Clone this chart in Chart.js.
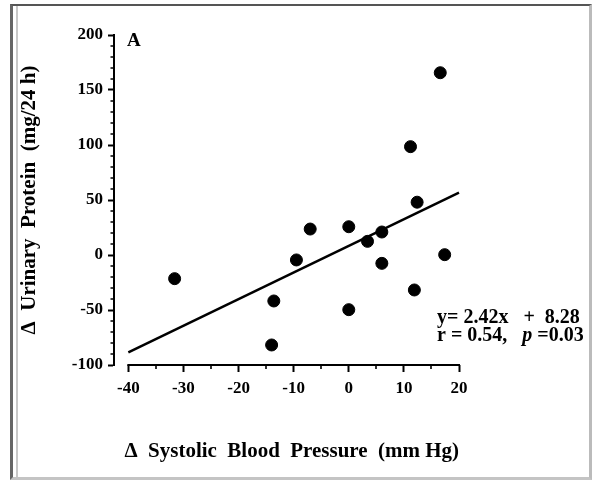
<!DOCTYPE html>
<html>
<head>
<meta charset="utf-8">
<script src="https://cdn.jsdelivr.net/npm/chart.js@4/dist/chart.umd.min.js"></script>
<style>
  html, body { margin: 0; padding: 0; background: #fff; }
  #wrap { position: relative; width: 592px; height: 481px; }
  #frame { position: absolute; left: 10px; top: 4px; width: 576px; height: 471px;
    border-top: 2px solid #555; border-left: 3px solid #666; border-right: 3px solid #bbb; border-bottom: 3px solid #c4c4c4;
    box-shadow: inset 3px 0 0 #fff, inset 5px 0 0 #c8c8c8; pointer-events: none; }
  canvas { position: absolute; left: 0; top: 0; }
</style>
</head>
<body>
<div id="wrap">
  <canvas id="c" width="592" height="481"></canvas>
  <div id="frame"></div>
</div>
<script>
// ---- data ----
const bpChange = [-31.6, -14.0, -13.6, -9.5, -7.0, 0.0, 0.0, 3.4, 6.0, 6.0, 11.2, 12.4, 11.9, 16.6, 17.4];
const proteinChange = [-21.5, -81.8, -41.8, -4.5, 23.6, 25.7, -49.7, 12.4, 20.9, -7.6, 98.5, 48.0, -31.8, 165.7, 0.3];
const fitX = [-40, 20];
const fitY = [-88.5, 56.7];
const xTickValues = [-40, -30, -20, -10, 0, 10, 20];
const xMinorTicks = [-35, -25, -15, -5, 5, 15];
const yTickValues = [-100, -50, 0, 50, 100, 150, 200];
const yMinorTicks = [-90, -80, -70, -60, -40, -30, -20, -10, 10, 20, 30, 40, 60, 70, 80, 90, 110, 120, 130, 140, 160, 170, 180, 190];
const xTitle = '\u2002Δ  Systolic  Blood  Pressure  (mm Hg)';
const yTitle = 'Δ  Urinary  Protein  (mg/24 h)';
const panelLabel = 'A';
const eqLine = 'y= 2.42x   +  8.28';
const statR = 'r = 0.54,   ';
const statP = 'p';
const statPv = ' =0.03';

const SERIF = '"Liberation Serif", "Times New Roman", serif';

const extras = {
  id: 'extras',
  afterDraw(chart) {
    const { ctx, chartArea, scales: { x, y } } = chart;
    ctx.save();
    ctx.strokeStyle = '#000';
    ctx.lineCap = 'butt';
    // x axis line, spanning the labelled range only
    const yb = chartArea.bottom;
    ctx.lineWidth = 2;
    ctx.beginPath();
    ctx.moveTo(x.getPixelForValue(xTickValues[0]) - 1, yb);
    ctx.lineTo(x.getPixelForValue(xTickValues[xTickValues.length - 1]) + 1, yb);
    ctx.stroke();
    // minor ticks
    ctx.lineWidth = 1.6;
    ctx.beginPath();
    xMinorTicks.forEach(v => { const p = Math.round(x.getPixelForValue(v)); ctx.moveTo(p, yb); ctx.lineTo(p, yb + 4); });
    yMinorTicks.forEach(v => { const p = Math.round(y.getPixelForValue(v)); ctx.moveTo(chartArea.left, p); ctx.lineTo(chartArea.left - 3.5, p); });
    ctx.stroke();
    // texts
    ctx.fillStyle = '#000';
    ctx.textBaseline = 'alphabetic';
    ctx.textAlign = 'left';
    ctx.font = 'bold 19px ' + SERIF;
    ctx.fillText(panelLabel, 127, 46);
    ctx.font = 'bold 20px ' + SERIF;
    ctx.fillText(eqLine, 437, 322.5);
    let cx = 437;
    ctx.fillText(statR, cx, 341);
    cx += ctx.measureText(statR).width;
    ctx.font = 'italic bold 20px ' + SERIF;
    ctx.fillText(statP, cx, 341);
    cx += ctx.measureText(statP).width;
    ctx.font = 'bold 20px ' + SERIF;
    ctx.fillText(statPv, cx, 341);
    ctx.restore();
  }
};

new Chart(document.getElementById('c'), {
  type: 'scatter',
  data: {
    datasets: [
      {
        data: bpChange.map((v, i) => ({ x: v, y: proteinChange[i] })),
        backgroundColor: '#000', borderColor: '#000',
        pointRadius: 6, pointHoverRadius: 6, clip: false
      },
      {
        data: fitX.map((v, i) => ({ x: v, y: fitY[i] })),
        showLine: true, borderColor: '#000', borderWidth: 2.5,
        pointRadius: 0, fill: false, clip: false
      }
    ]
  },
  options: {
    responsive: false,
    devicePixelRatio: 1,
    animation: false,
    events: [],
    layout: { padding: { top: 35, right: 133, bottom: 0, left: 0 } },
    plugins: { legend: { display: false }, tooltip: { enabled: false } },
    scales: {
      x: {
        type: 'linear', min: -42.6, max: 20,
        afterBuildTicks: s => { s.ticks = xTickValues.map(v => ({ value: v })); },
        afterFit: s => { s.height = 116; },
        border: { display: false },
        grid: { drawOnChartArea: false, drawTicks: true, tickLength: 7, tickWidth: 2, tickColor: '#000', color: '#000' },
        ticks: { color: '#000', padding: 6, maxRotation: 0, autoSkip: false,
          font: { family: SERIF, size: 17, weight: 'bold' } },
        title: { display: true, text: xTitle, color: '#000',
          font: { family: SERIF, size: 21, weight: 'bold' }, padding: { top: 0, bottom: 17 } }
      },
      y: {
        type: 'linear', min: -100, max: 200,
        afterBuildTicks: s => { s.ticks = yTickValues.map(v => ({ value: v })); },
        afterFit: s => { s.width = 114; },
        border: { display: true, color: '#000', width: 2 },
        grid: { drawOnChartArea: false, drawTicks: true, tickLength: 6, tickWidth: 2, tickColor: '#000', color: '#000' },
        ticks: { color: '#000', padding: 5, autoSkip: false,
          font: { family: SERIF, size: 17, weight: 'bold' } },
        title: { display: true, text: yTitle, color: '#000',
          font: { family: SERIF, size: 21, weight: 'bold' }, padding: { top: 17, bottom: 0 } }
      }
    }
  },
  plugins: [extras]
});
</script>
</body>
</html>
